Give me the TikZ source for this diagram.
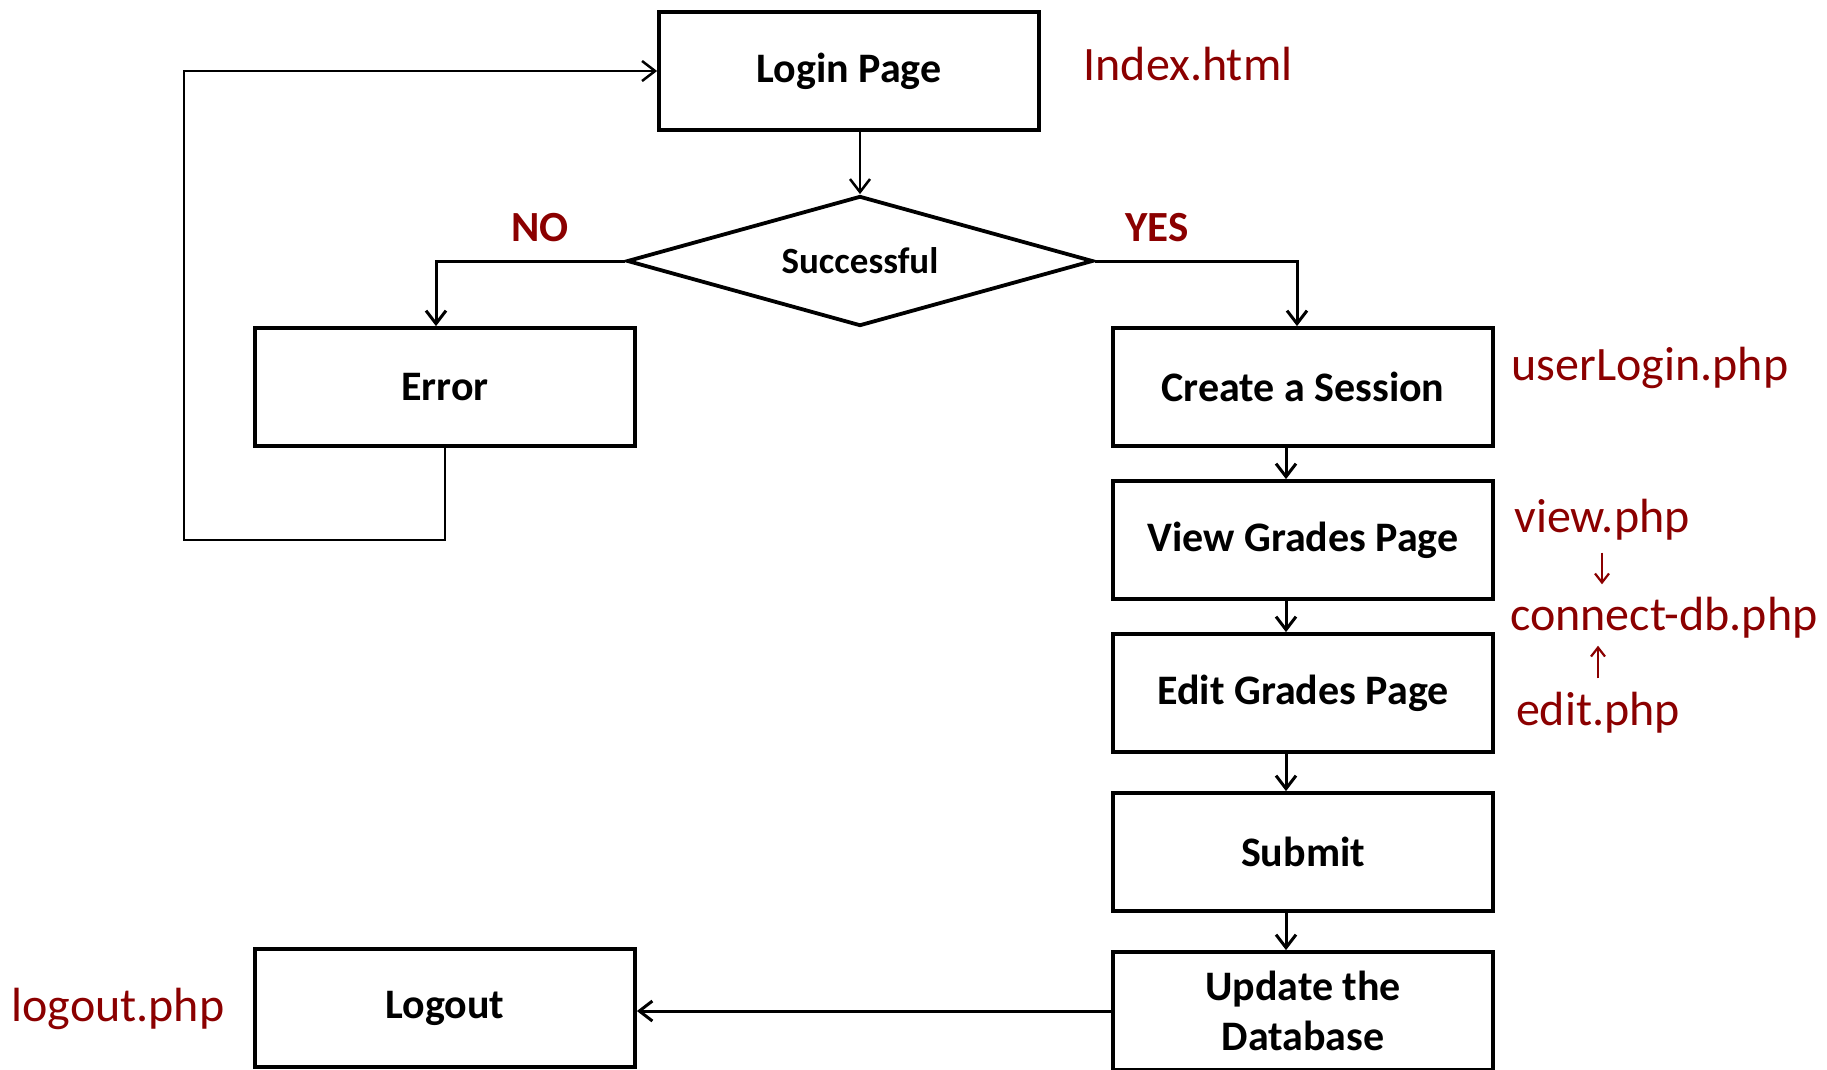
\documentclass[tikz,border=0pt]{standalone}
\usepackage{fontspec}
\setmainfont{Carlito}
\usetikzlibrary{arrows.meta, positioning, shapes.geometric}
\definecolor{filered}{RGB}{139,0,0}

\begin{document}
\begin{tikzpicture}[x=1pt, y=-1pt,
  box/.style={rectangle, draw, line width=3.8pt, minimum width=380pt, minimum height=118pt, align=center, font=\fontsize{42}{50}\selectfont\bfseries},
  decision/.style={diamond, draw, line width=3.8pt, aspect=3.58, minimum width=466pt, minimum height=130pt, inner sep=0pt, font=\fontsize{37}{44}\selectfont\bfseries},
  file/.style={text=filered, inner sep=0pt, font=\fontsize{48}{56}\selectfont},
  answer/.style={text=filered, inner sep=0pt, font=\fontsize{43}{50}\selectfont\bfseries},
  link/.style={draw, line width=3pt, -{Straight Barb[length=13pt, width=20pt, line width=3pt]}},
  thinlink/.style={draw, line width=2.5pt, -{Straight Barb[length=13pt, width=20pt, line width=2.5pt]}},
  redlink/.style={draw=filered, line width=2.2pt, -{Straight Barb[length=9pt, width=14pt, line width=2.2pt]}}]
  \useasboundingbox (0,0) rectangle (1827,1069);
  \node (login) [box] at (849,71) {Login Page};
  \node (dec) [decision] at (860,261) {Successful};
  \node (err) [box] at (445,387) {Error};
  \node (sess) [box] at (1303,387) {Create a Session};
  \node (view) [box] at (1303,540) {View Grades Page};
  \node (edit) [box] at (1303,693) {Edit Grades Page};
  \node (sub) [box] at (1303,852) {Submit};
  \node (upd) [box] at (1303,1011) {Update the\\Database};
  \node (out) [box] at (445,1008) {Logout};
  \node (idx) [file] at (1188,64) {Index.html};
  \node (ulog) [file] at (1650,368) {userLogin.php};
  \node (vphp) [file] at (1602,520) {view.php};
  \node (cphp) [file] at (1664,618) {connect-db.php};
  \node (ephp) [file] at (1598,713) {edit.php};
  \node (lphp) [file] at (118,1009) {logout.php};
  \node (no) [answer] at (540,228) {NO};
  \node (yes) [answer] at (1157,228) {YES};
  \coordinate (back) at (184,540);
  \path[thinlink] (login.south -| dec.north) -- (dec.north);
  \path[link] (dec.west) -| ([xshift=-9pt]err.north);
  \path[link] (dec.east) -| ([xshift=-6pt]sess.north);
  \path[thinlink] (err.south) |- (back) |- (login.west);
  \path[link] ([xshift=-17pt]sess.south) -- ([xshift=-17pt]view.north);
  \path[link] ([xshift=-17pt]view.south) -- ([xshift=-17pt]edit.north);
  \path[link] ([xshift=-17pt]edit.south) -- ([xshift=-17pt]sub.north);
  \path[link] ([xshift=-17pt]sub.south) -- ([xshift=-17pt]upd.north);
  \path[link] (upd.west) -- (upd.west -| out.east);
  % small arrows towards the db script
  \path[redlink] ([yshift=-12pt]vphp.south) -- ([yshift=13pt]vphp.south |- cphp.north);
  \path[redlink] ([yshift=14pt]ephp.north) -- ([yshift=-7pt]ephp.north |- cphp.south);
\end{tikzpicture}
\end{document}
